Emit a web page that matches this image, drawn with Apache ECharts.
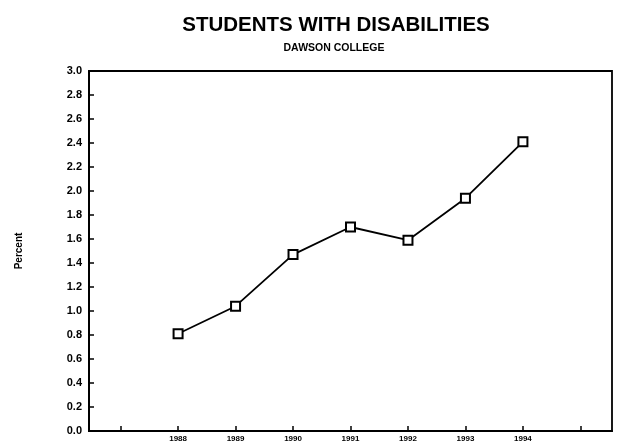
<!DOCTYPE html>
<html>
<head>
<meta charset="utf-8">
<script src="https://cdn.jsdelivr.net/npm/echarts@6/dist/echarts.min.js"></script>
<style>html,body{margin:0;padding:0;background:#fff;}#c{width:619px;height:445px;}</style>
</head>
<body>
<div id="c"></div>
<script>
var years = [1988, 1989, 1990, 1991, 1992, 1993, 1994];
var percent = [0.81, 1.04, 1.47, 1.70, 1.59, 1.94, 2.41];
var xTicks = [1987, 1988, 1989, 1990, 1991, 1992, 1993, 1994, 1995];
var xLabels = [1988, 1989, 1990, 1991, 1992, 1993, 1994];
var titleText = 'STUDENTS WITH DISABILITIES';
var subtitleText = 'DAWSON COLLEGE';
var yName = 'Percent';

var chart = echarts.init(document.getElementById('c'), null, {renderer: 'canvas'});
var F = '"Liberation Sans", Arial, sans-serif';
chart.setOption({
  backgroundColor: '#fff',
  animation: false,
  title: [
    {text: titleText, left: 331, top: 10, textAlign: 'center',
     textStyle: {fontFamily: F, fontWeight: 'bold', fontSize: 20.5, color: '#000'}},
    {text: subtitleText, left: 329, top: 38, textAlign: 'center',
     textStyle: {fontFamily: F, fontWeight: 'bold', fontSize: 10.5, color: '#000'}}
  ],
  grid: {left: 89, right: 7, top: 71, bottom: 14, show: true, borderColor: '#000', borderWidth: 1.8, backgroundColor: 'transparent'},
  xAxis: {
    type: 'value', min: 1986.45, max: 1995.55,
    axisLine: {show: true, lineStyle: {color: '#000', width: 2}},
    axisTick: {show: true, inside: true, length: 5, customValues: xTicks, lineStyle: {color: '#000', width: 1.5}},
    axisLabel: {show: true, customValues: xLabels, margin: 4, fontFamily: F, fontWeight: 'bold', fontSize: 8, color: '#000',
      formatter: function (v) { return String(v); }},
    splitLine: {show: false}
  },
  yAxis: {
    type: 'value', min: 0, max: 3, interval: 0.2,
    name: yName, nameLocation: 'middle', nameGap: 65, nameRotate: 90,
    nameTextStyle: {fontFamily: F, fontWeight: 'bold', fontSize: 10, color: '#000'},
    axisLine: {show: true, lineStyle: {color: '#000', width: 2}},
    axisTick: {show: true, inside: true, length: 5, lineStyle: {color: '#000', width: 1.5}},
    axisLabel: {margin: 7, fontFamily: F, fontWeight: 'bold', fontSize: 11, color: '#000',
      formatter: function (v) { return v.toFixed(1); }},
    splitLine: {show: false}
  },
  series: [{
    type: 'line',
    data: years.map(function (y, i) { return [y, percent[i]]; }),
    lineStyle: {color: '#000', width: 1.8},
    itemStyle: {color: '#fff', borderColor: '#000', borderWidth: 2},
    symbol: 'rect', symbolSize: 9, showAllSymbol: true
  }]
});
</script>
</body>
</html>
